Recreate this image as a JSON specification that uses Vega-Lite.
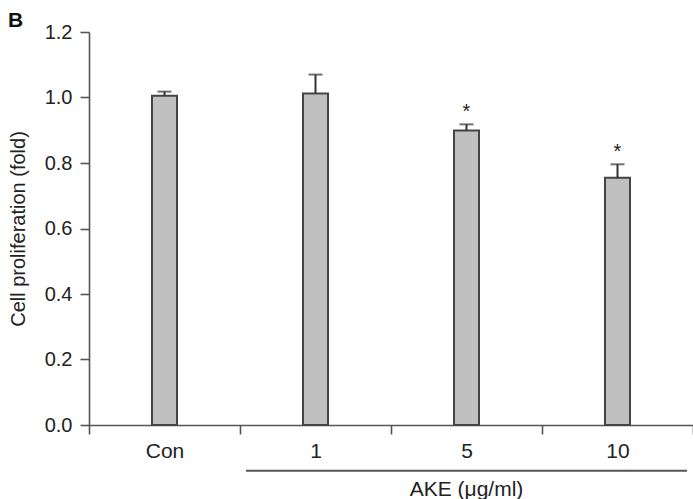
{
  "$schema": "https://vega.github.io/schema/vega-lite/v6.json",
  "width": 604,
  "height": 393,
  "autosize": {"type": "none"},
  "padding": {"left": 89, "top": 32, "right": 0, "bottom": 74},
  "background": "white",
  "title": {"text": "B", "anchor": "start", "frame": "group", "fontSize": 21, "fontWeight": "bold", "font": "Liberation Sans", "color": "#111", "dx": -81, "offset": -9},
  "config": {
    "view": {"stroke": null},
    "font": "Liberation Sans",
    "axis": {"grid": false, "domainColor": "#555", "domainWidth": 1.6, "tickColor": "#555", "tickWidth": 1.6, "tickSize": 9, "labelColor": "#222", "labelFont": "Liberation Sans", "titleFont": "Liberation Sans"},
    "axisY": {"titleFontSize": 20, "titleFontWeight": "normal", "titleColor": "#222", "titlePadding": 16, "labelFontSize": 20, "labelPadding": 8}
  },
  "layer": [
    {
      "data": {"values": [
        {"dose": "Con", "mean": 1.005, "upper": 1.018, "sig": ""},
        {"dose": "1", "mean": 1.012, "upper": 1.070, "sig": ""},
        {"dose": "5", "mean": 0.899, "upper": 0.918, "sig": "*"},
        {"dose": "10", "mean": 0.755, "upper": 0.796, "sig": "*"}
      ]},
      "encoding": {
        "x": {"field": "dose", "type": "nominal", "sort": null,
          "scale": {"paddingInner": 0, "paddingOuter": 0},
          "axis": {"title": null, "tickBand": "extent", "labelAngle": 0, "labelFontSize": 21, "labelPadding": 6}}
      },
      "layer": [
        {"mark": {"type": "bar", "size": 25, "fill": "#c0c0c0", "stroke": "#444", "strokeWidth": 2},
         "encoding": {"y": {"field": "mean", "type": "quantitative",
           "scale": {"domain": [0, 1.2]},
           "axis": {"title": "Cell proliferation (fold)", "values": [0, 0.2, 0.4, 0.6, 0.8, 1.0, 1.2], "format": ".1f"}}}},
        {"mark": {"type": "rule", "color": "#333", "strokeWidth": 2},
         "encoding": {"y": {"field": "mean", "type": "quantitative", "scale": {"domain": [0, 1.2]},
           "axis": {"title": "Cell proliferation (fold)", "values": [0, 0.2, 0.4, 0.6, 0.8, 1.0, 1.2], "format": ".1f"}}, "y2": {"field": "upper"}}},
        {"mark": {"type": "tick", "color": "#333", "size": 14, "thickness": 2},
         "encoding": {"y": {"field": "upper", "type": "quantitative", "scale": {"domain": [0, 1.2]},
           "axis": {"title": "Cell proliferation (fold)", "values": [0, 0.2, 0.4, 0.6, 0.8, 1.0, 1.2], "format": ".1f"}}}},
        {"mark": {"type": "text", "fontSize": 20, "color": "#222", "baseline": "alphabetic", "dy": -6},
         "encoding": {"y": {"field": "upper", "type": "quantitative", "scale": {"domain": [0, 1.2]},
           "axis": {"title": "Cell proliferation (fold)", "values": [0, 0.2, 0.4, 0.6, 0.8, 1.0, 1.2], "format": ".1f"}}, "text": {"field": "sig"}}}
      ]
    },
    {
      "data": {"values": [
        {"label": "AKE (μg/ml)", "start": 1.04, "end": 3.96, "mid": 2.5, "level": -0.14}
      ]},
      "layer": [
        {"mark": {"type": "rule", "color": "#555", "strokeWidth": 2},
         "encoding": {
           "x": {"field": "start", "type": "quantitative", "scale": {"domain": [0, 4], "nice": false}, "axis": null},
           "x2": {"field": "end"},
           "y": {"field": "level", "type": "quantitative", "scale": {"domain": [0, 1.2]},
             "axis": {"title": "Cell proliferation (fold)", "values": [0, 0.2, 0.4, 0.6, 0.8, 1.0, 1.2], "format": ".1f"}}}},
        {"mark": {"type": "text", "fontSize": 21, "color": "#222", "baseline": "alphabetic", "dy": 25},
         "encoding": {
           "x": {"field": "mid", "type": "quantitative", "scale": {"domain": [0, 4], "nice": false}, "axis": null},
           "y": {"field": "level", "type": "quantitative", "scale": {"domain": [0, 1.2]},
             "axis": {"title": "Cell proliferation (fold)", "values": [0, 0.2, 0.4, 0.6, 0.8, 1.0, 1.2], "format": ".1f"}},
           "text": {"field": "label"}}}
      ]
    }
  ],
  "resolve": {"scale": {"x": "independent"}}
}
